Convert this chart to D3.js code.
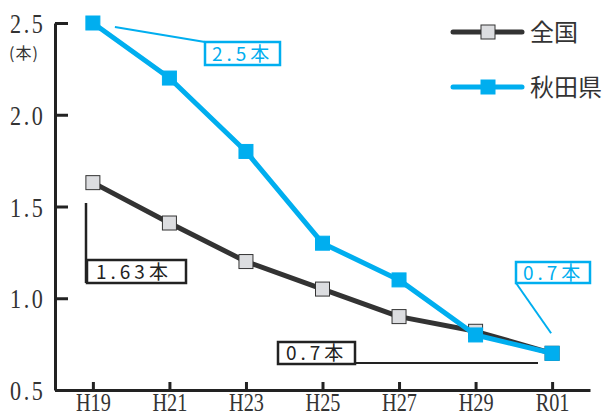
<!DOCTYPE html>
<html>
<head>
<meta charset="utf-8">
<script src="https://cdn.jsdelivr.net/npm/d3@7"></script>
<style>
  body { margin: 0; background: #fff; }
  .tick text { font-family: "Liberation Serif", serif; fill: #333; }
  .note { font-family: "Noto Sans CJK JP", sans-serif; font-size: 19px; letter-spacing: 4px; }
</style>
</head>
<body>
<svg id="chart"></svg>
<script>
// data
const categories = ["H19", "H21", "H23", "H25", "H27", "H29", "R01"];
const zenkoku = [1.63, 1.41, 1.2, 1.05, 0.9, 0.82, 0.7];
const akita = [2.5, 2.2, 1.8, 1.3, 1.1, 0.8, 0.7];
const yTicks = [0.5, 1.0, 1.5, 2.0, 2.5];
const seriesNames = ["全国", "秋田県"];

const width = 607, height = 417;
const dark = "#333333", cyan = "#00aeef";

const svg = d3.select("svg#chart")
    .attr("width", width)
    .attr("height", height);

const xScale = d3.scalePoint()
    .domain(categories)
    .range([55, 590])
    .padding(0.495);

const yScale = d3.scaleLinear()
    .domain([0.5, 2.5])
    .range([390, 23]);

// y axis, ticks point inward
const yAxis = svg.append("g")
    .attr("transform", "translate(55,0)")
    .call(d3.axisLeft(yScale).tickValues(yTicks).tickSizeInner(-13).tickSizeOuter(0)
        .tickPadding(10).tickFormat(d3.format(".1f")));
yAxis.select(".domain").attr("stroke", "#222").attr("stroke-width", 3);
yAxis.selectAll(".tick line").attr("stroke", "#222").attr("stroke-width", 3);
yAxis.selectAll(".tick text")
    .attr("font-size", 27).attr("letter-spacing", 3)
    .attr("x", -12).attr("dy", "0.36em")
    .attr("transform", "scale(0.82,1)");

svg.append("text")
    .attr("x", 9).attr("y", 59)
    .attr("font-family", "Noto Sans CJK JP, sans-serif")
    .attr("font-size", 16)
    .attr("letter-spacing", 1)
    .attr("fill", "#333")
    .text("(本)");

// x axis
const xAxis = svg.append("g")
    .attr("transform", "translate(0,390)")
    .call(d3.axisBottom(xScale).tickSizeInner(-8).tickSizeOuter(0).tickPadding(4));
xAxis.select(".domain").attr("stroke", "#222").attr("stroke-width", 3);
xAxis.selectAll(".tick line").attr("stroke", "#222").attr("stroke-width", 3);
xAxis.selectAll(".tick text")
    .attr("font-size", 26).attr("y", 3)
    .attr("transform", "scale(0.78,1)");

// annotations
const a0 = {x: xScale("H19"), y: yScale(akita[0])};
svg.append("line")
    .attr("x1", a0.x + 22).attr("y1", a0.y + 4)
    .attr("x2", 205).attr("y2", 42)
    .attr("stroke", cyan).attr("stroke-width", 2);
svg.append("rect")
    .attr("x", 205).attr("y", 42).attr("width", 75).attr("height", 23)
    .attr("fill", "#fff").attr("stroke", cyan).attr("stroke-width", 2.5);
svg.append("text").attr("class", "note")
    .attr("x", 212).attr("y", 61).attr("fill", cyan)
    .text("2.5本");

svg.append("line")
    .attr("x1", 86).attr("y1", 203).attr("x2", 86).attr("y2", 283)
    .attr("stroke", "#222").attr("stroke-width", 2.5);
svg.append("rect")
    .attr("x", 87).attr("y", 260).attr("width", 99).attr("height", 23)
    .attr("fill", "#fff").attr("stroke", "#222").attr("stroke-width", 2.5);
svg.append("text").attr("class", "note")
    .attr("x", 96).attr("y", 279).attr("fill", "#222")
    .text("1.63本");

svg.append("line")
    .attr("x1", 278).attr("y1", 363).attr("x2", 538).attr("y2", 363)
    .attr("stroke", "#222").attr("stroke-width", 2);
svg.append("rect")
    .attr("x", 278).attr("y", 342).attr("width", 77).attr("height", 22)
    .attr("fill", "#fff").attr("stroke", "#222").attr("stroke-width", 2.5);
svg.append("text").attr("class", "note")
    .attr("x", 286).attr("y", 360).attr("fill", "#222")
    .text("0.7本");

const aLast = {x: xScale("R01"), y: yScale(akita[akita.length - 1])};
svg.append("line")
    .attr("x1", 516).attr("y1", 283)
    .attr("x2", aLast.x - 1).attr("y2", aLast.y - 20)
    .attr("stroke", cyan).attr("stroke-width", 2);
svg.append("rect")
    .attr("x", 516).attr("y", 262).attr("width", 74).attr("height", 21)
    .attr("fill", "#fff").attr("stroke", cyan).attr("stroke-width", 2.5);
svg.append("text").attr("class", "note")
    .attr("x", 523).attr("y", 280).attr("fill", cyan)
    .text("0.7本");

// series
const line = d3.line()
    .x((d, i) => xScale(categories[i]))
    .y((d) => yScale(d));

const series = [
    {name: seriesNames[0], values: zenkoku, color: dark, fill: "#dcdde0", stroke: "#333"},
    {name: seriesNames[1], values: akita, color: cyan, fill: cyan, stroke: cyan},
];

const ms = 14;
series.forEach((s) => {
    svg.append("path")
        .datum(s.values)
        .attr("d", line)
        .attr("fill", "none")
        .attr("stroke", s.color)
        .attr("stroke-width", 5)
        .attr("stroke-linejoin", "round");
    svg.selectAll(null)
        .data(s.values)
        .enter().append("rect")
        .attr("x", (d, i) => xScale(categories[i]) - ms / 2)
        .attr("y", (d) => yScale(d) - ms / 2)
        .attr("width", ms).attr("height", ms)
        .attr("fill", s.fill)
        .attr("stroke", s.stroke)
        .attr("stroke-width", 1);
});

// legend
const legend = svg.selectAll("g.legend")
    .data(series)
    .enter().append("g")
    .attr("class", "legend")
    .attr("transform", (d, i) => "translate(453," + (32 + i * 55) + ")");
legend.append("line")
    .attr("x1", 0).attr("x2", 69)
    .attr("stroke", (d) => d.color).attr("stroke-width", 5)
    .attr("stroke-linecap", "round");
legend.append("rect")
    .attr("x", 35 - 7).attr("y", -7).attr("width", 14).attr("height", 14)
    .attr("fill", (d) => d.fill).attr("stroke", (d) => d.stroke).attr("stroke-width", 1);
legend.append("text")
    .attr("x", 77).attr("y", 9)
    .attr("font-family", "Noto Sans CJK JP, sans-serif")
    .attr("font-size", 24)
    .attr("fill", "#333")
    .text((d) => d.name);
</script>
</body>
</html>
